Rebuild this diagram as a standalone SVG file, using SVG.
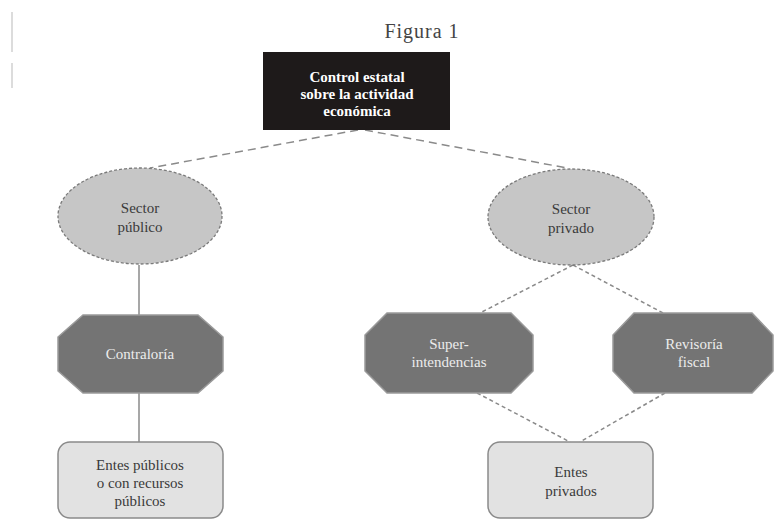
<svg xmlns="http://www.w3.org/2000/svg" width="776" height="520" viewBox="0 0 776 520">
<style>
.t{font-family:"Liberation Serif","Times New Roman",serif;font-size:15px;text-anchor:middle}
.dark{fill:#3a3a3a}
.light{fill:#ececec}
.ell{fill:#c6c6c6;stroke:#7a7a7a;stroke-width:1.3;stroke-dasharray:3 2}
.oct{fill:#747474;stroke:#9a9a9a;stroke-width:1.5}
.rr{fill:#e2e2e2;stroke:#8a8a8a;stroke-width:1.5}
.c{stroke:#8a8a8a;stroke-width:1.5;fill:none}
.d1{stroke-dasharray:8 5}
.d2{stroke-dasharray:4 3}
</style>
<rect width="776" height="520" fill="#ffffff"/>
<line x1="12" y1="12" x2="12" y2="52" stroke="#dcdcdc" stroke-width="2"/>
<line x1="12" y1="63" x2="12" y2="88" stroke="#dcdcdc" stroke-width="2"/>
<text x="422" y="38" font-family="Liberation Serif, Times New Roman, serif" font-size="20" letter-spacing="1" text-anchor="middle" fill="#444">Figura 1</text>
<g id="connectors">
<line class="c d1" x1="358" y1="130" x2="150" y2="168"/>
<line class="c d1" x1="365" y1="130" x2="567" y2="168"/>
<line class="c" x1="139" y1="265" x2="139" y2="315"/>
<line class="c" x1="139" y1="393" x2="139" y2="442"/>
<line class="c d2" x1="573" y1="265" x2="480" y2="313"/>
<line class="c d2" x1="573" y1="265" x2="663" y2="313"/>
<line class="c d2" x1="477" y1="393" x2="570" y2="442"/>
<line class="c d2" x1="665" y1="393" x2="580" y2="442"/>
</g>
<g id="control">
<rect x="263" y="52" width="187" height="78" fill="#1e1a1a"/>
<text class="t" x="357" y="82" fill="#ffffff" font-weight="bold" font-size="14">Control estatal</text>
<text class="t" x="357" y="99" fill="#ffffff" font-weight="bold" font-size="14">sobre la actividad</text>
<text class="t" x="357" y="116" fill="#ffffff" font-weight="bold" font-size="14">económica</text>
</g>
<g id="sector-publico">
<ellipse class="ell" cx="140" cy="216" rx="82" ry="48"/>
<text class="t dark" x="140" y="213">Sector</text>
<text class="t dark" x="140" y="232">público</text>
</g>
<g id="sector-privado">
<ellipse class="ell" cx="571" cy="217" rx="83" ry="48"/>
<text class="t dark" x="571" y="214">Sector</text>
<text class="t dark" x="571" y="233">privado</text>
</g>
<g id="contraloria">
<polygon class="oct" points="83,315 198,315 223,337 223,371 198,393 83,393 58,371 58,337"/>
<text class="t light" x="140" y="359">Contraloría</text>
</g>
<g id="superintendencias">
<polygon class="oct" points="387,313 511,313 533,335 533,371 511,393 387,393 365,371 365,335"/>
<text class="t light" x="449" y="349">Super-</text>
<text class="t light" x="449" y="367">intendencias</text>
</g>
<g id="revisoria">
<polygon class="oct" points="634,313 752,313 773,335 773,371 752,393 634,393 613,371 613,335"/>
<text class="t light" x="694" y="349">Revisoría</text>
<text class="t light" x="694" y="367">fiscal</text>
</g>
<g id="entes-publicos">
<rect class="rr" x="58" y="442" width="165" height="76" rx="12"/>
<text class="t dark" x="140" y="470">Entes públicos</text>
<text class="t dark" x="140" y="488">o con recursos</text>
<text class="t dark" x="140" y="506">públicos</text>
</g>
<g id="entes-privados">
<rect class="rr" x="488" y="442" width="165" height="76" rx="12"/>
<text class="t dark" x="571" y="477">Entes</text>
<text class="t dark" x="571" y="496">privados</text>
</g>
</svg>
